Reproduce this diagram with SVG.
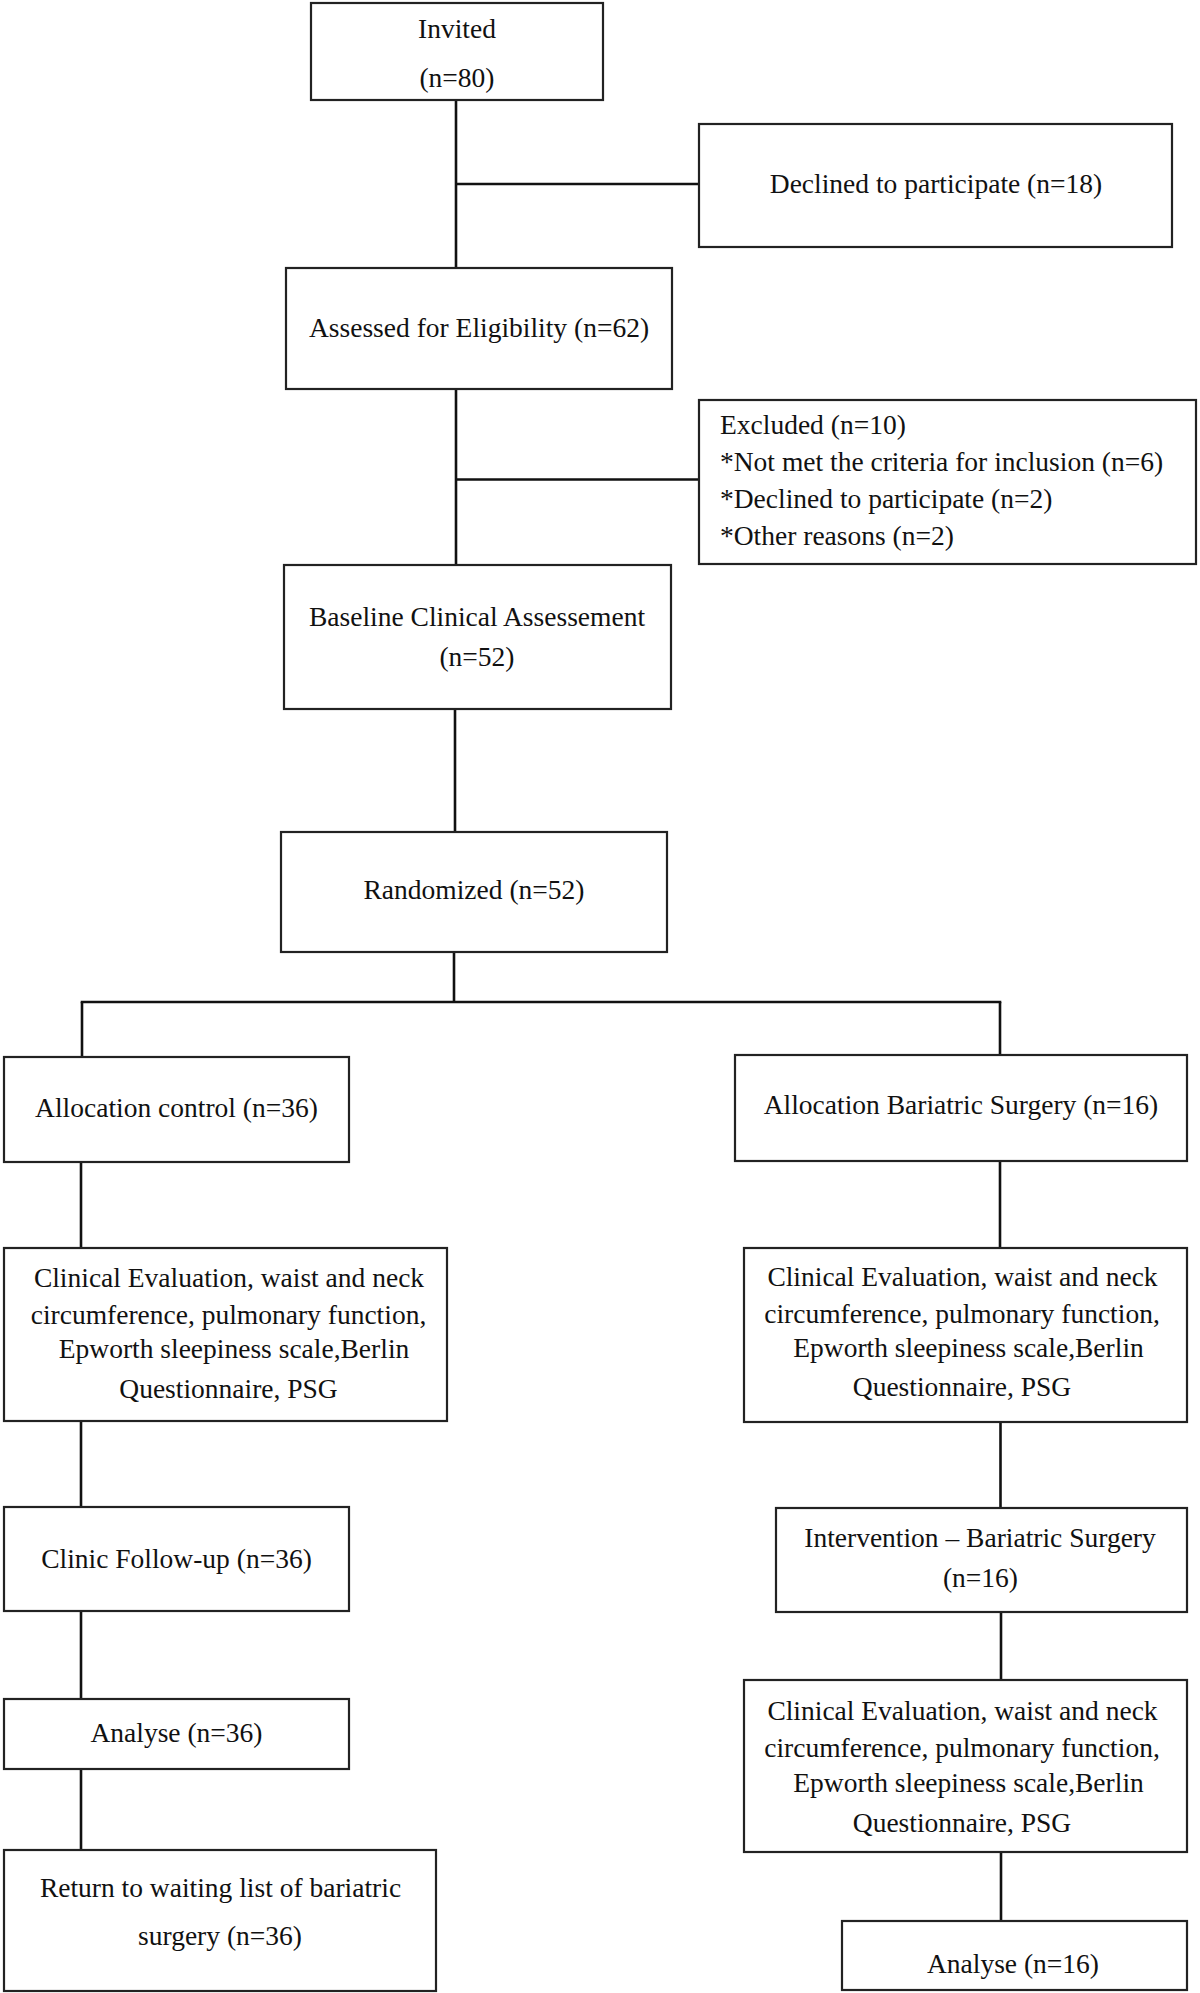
<svg xmlns="http://www.w3.org/2000/svg" width="1200" height="1993" viewBox="0 0 1200 1993">
<style>
  .box { fill: #ffffff; stroke: #222222; stroke-width: 2.2; }
  .t { font-family: "Liberation Serif", "Times New Roman", serif; font-size: 27.5px; fill: #111111; text-anchor: middle; }
  .tl { font-family: "Liberation Serif", "Times New Roman", serif; font-size: 27.5px; fill: #111111; text-anchor: start; }
  .c { fill: none; stroke: #111111; stroke-width: 2.6; }
</style>
<rect x="0" y="0" width="1200" height="1993" fill="#ffffff"/>

<g id="connectors">
  <line class="c" x1="456" y1="100" x2="456" y2="268"/>
  <line class="c" x1="456" y1="184" x2="699" y2="184"/>
  <line class="c" x1="456" y1="389" x2="456" y2="565"/>
  <line class="c" x1="456" y1="479.5" x2="700" y2="479.5"/>
  <line class="c" x1="455" y1="709" x2="455" y2="832"/>
  <line class="c" x1="454" y1="952" x2="454" y2="1002"/>
  <line class="c" x1="80.7" y1="1002" x2="1001.3" y2="1002"/>
  <line class="c" x1="82" y1="1002" x2="82" y2="1057"/>
  <line class="c" x1="1000" y1="1002" x2="1000" y2="1055"/>
  <line class="c" x1="81" y1="1162" x2="81" y2="1248"/>
  <line class="c" x1="81" y1="1421" x2="81" y2="1507"/>
  <line class="c" x1="81" y1="1611" x2="81" y2="1699"/>
  <line class="c" x1="81" y1="1769" x2="81" y2="1850"/>
  <line class="c" x1="1000" y1="1161" x2="1000" y2="1248"/>
  <line class="c" x1="1000.5" y1="1422" x2="1000.5" y2="1508"/>
  <line class="c" x1="1001" y1="1612" x2="1001" y2="1680"/>
  <line class="c" x1="1001" y1="1852" x2="1001" y2="1921"/>
</g>

<g id="invited">
  <rect class="box" x="311" y="3" width="292" height="97"/>
  <text class="t" x="457" y="38">Invited</text>
  <text class="t" x="457" y="87">(n=80)</text>
</g>

<g id="declined">
  <rect class="box" x="699" y="124" width="473" height="123"/>
  <text class="t" x="936" y="193">Declined to participate (n=18)</text>
</g>

<g id="assessed">
  <rect class="box" x="286" y="268" width="386" height="121"/>
  <text class="t" x="479" y="337">Assessed for Eligibility (n=62)</text>
</g>

<g id="excluded">
  <rect class="box" x="699" y="400" width="497" height="164"/>
  <text class="tl" x="720" y="434">Excluded (n=10)</text>
  <text class="tl" x="720" y="471">*Not met the criteria for inclusion (n=6)</text>
  <text class="tl" x="720" y="508">*Declined to participate (n=2)</text>
  <text class="tl" x="720" y="545">*Other reasons (n=2)</text>
</g>

<g id="baseline">
  <rect class="box" x="284" y="565" width="387" height="144"/>
  <text class="t" x="477" y="626">Baseline Clinical Assessement</text>
  <text class="t" x="477" y="666">(n=52)</text>
</g>

<g id="randomized">
  <rect class="box" x="281" y="832" width="386" height="120"/>
  <text class="t" x="474" y="899">Randomized (n=52)</text>
</g>

<g id="alloc-control">
  <rect class="box" x="4" y="1057" width="345" height="105"/>
  <text class="t" x="176.5" y="1117">Allocation control (n=36)</text>
</g>

<g id="alloc-bariatric">
  <rect class="box" x="735" y="1055" width="452" height="106"/>
  <text class="t" x="961" y="1114">Allocation Bariatric Surgery (n=16)</text>
</g>

<g id="eval-control">
  <rect class="box" x="4" y="1248" width="443" height="173"/>
  <text class="t" x="229" y="1287">Clinical Evaluation, waist and neck</text>
  <text class="t" x="228.5" y="1324">circumference, pulmonary function,</text>
  <text class="t" x="234" y="1358">Epworth sleepiness scale,Berlin</text>
  <text class="t" x="228.5" y="1398">Questionnaire, PSG</text>
</g>

<g id="eval-bariatric-1">
  <rect class="box" x="744" y="1248" width="443" height="174"/>
  <text class="t" x="962.5" y="1286">Clinical Evaluation, waist and neck</text>
  <text class="t" x="962" y="1323">circumference, pulmonary function,</text>
  <text class="t" x="968.5" y="1357">Epworth sleepiness scale,Berlin</text>
  <text class="t" x="962" y="1396">Questionnaire, PSG</text>
</g>

<g id="followup">
  <rect class="box" x="4" y="1507" width="345" height="104"/>
  <text class="t" x="176.5" y="1568">Clinic Follow-up (n=36)</text>
</g>

<g id="intervention">
  <rect class="box" x="776" y="1508" width="411" height="104"/>
  <text class="t" x="980" y="1547">Intervention – Bariatric Surgery</text>
  <text class="t" x="980.5" y="1587">(n=16)</text>
</g>

<g id="analyse-control">
  <rect class="box" x="4" y="1699" width="345" height="70"/>
  <text class="t" x="176.5" y="1742">Analyse (n=36)</text>
</g>

<g id="eval-bariatric-2">
  <rect class="box" x="744" y="1680" width="443" height="172"/>
  <text class="t" x="962.5" y="1720">Clinical Evaluation, waist and neck</text>
  <text class="t" x="962" y="1757">circumference, pulmonary function,</text>
  <text class="t" x="968.5" y="1792">Epworth sleepiness scale,Berlin</text>
  <text class="t" x="962" y="1832">Questionnaire, PSG</text>
</g>

<g id="return">
  <rect class="box" x="4" y="1850" width="432" height="141"/>
  <text class="t" x="220.5" y="1897">Return to waiting list of bariatric</text>
  <text class="t" x="220" y="1945">surgery (n=36)</text>
</g>

<g id="analyse-bariatric">
  <rect class="box" x="842" y="1921" width="345" height="69"/>
  <text class="t" x="1013" y="1973">Analyse (n=16)</text>
</g>
</svg>
